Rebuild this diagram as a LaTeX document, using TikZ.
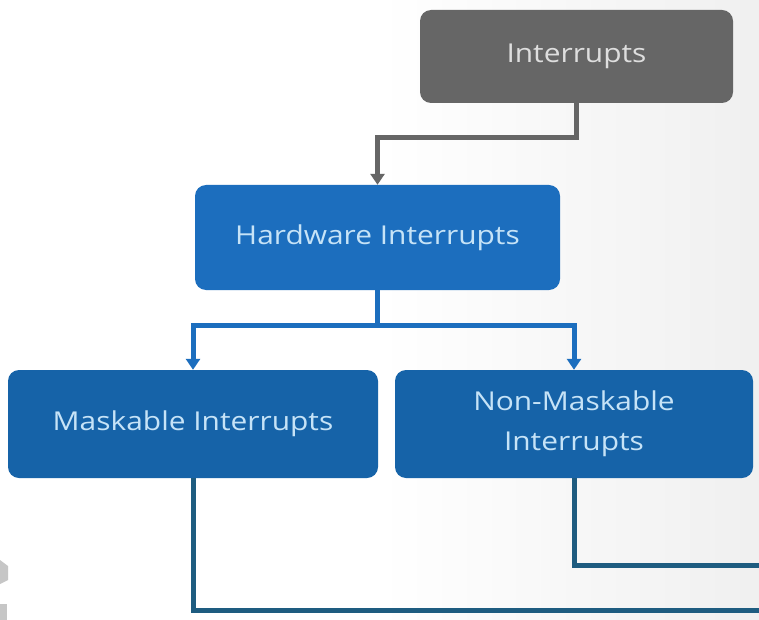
\documentclass[tikz,border=0pt]{standalone}
\usepackage{fontspec}
\setmainfont{Open Sans}[FakeStretch=1.15]
\usetikzlibrary{arrows.meta}
\definecolor{boxgray}{HTML}{666666}
\definecolor{hwblue}{HTML}{1C6EBE}
\definecolor{subblue}{HTML}{1663A8}
\definecolor{txtblue}{HTML}{C6E3F7}
\definecolor{txtgray}{HTML}{DEDEDE}
\definecolor{tealline}{HTML}{1E5C80}
\tikzset{
  box/.style={rounded corners=11pt, inner sep=0pt, align=center, font=\fontsize{26}{40}\selectfont},
  conn/.style={line width=5pt, -{Triangle[width=14pt,length=11pt]}},
  plain/.style={line width=5pt, color=tealline},
}
\begin{document}
\begin{tikzpicture}[x=1pt,y=-1pt]
\useasboundingbox (0,0) rectangle (759,620);
\shade[left color=white, right color=white!94!black, middle color=white] (0,0) rectangle (759,620);
% fragment at left edge
\fill[gray!45] (0,560) -- (8,566) -- (8,580) -- (0,584) -- cycle;
\fill[gray!45] (0,604) rectangle (7,620);

\node[box, fill=boxgray, text=txtgray, minimum width=313pt, minimum height=93pt] (int) at (576.5,56.5) {Interrupts};
\node[box, fill=hwblue, text=txtblue, minimum width=365pt, minimum height=105pt] (hw) at (377.5,237.5) {Hardware Interrupts};
\node[box, fill=subblue, text=txtblue, minimum width=370pt, minimum height=108pt] (mask) at (193,424) {Maskable Interrupts};
\node[box, fill=subblue, text=txtblue, minimum width=358pt, minimum height=108pt] (nmask) at (574,424) {Non-Maskable\\Interrupts};

\draw[conn, boxgray] (int.south) -- (int.south |- 0,138) -| (hw.north);
\coordinate (split) at (hw.south |- 0,325);
\draw[line width=5pt, hwblue] (hw.south) -- (split);
\draw[conn, hwblue] (split) -| (mask.north);
\draw[conn, hwblue] (split) -| (nmask.north);

\coordinate (e1) at (760,565);
\coordinate (e2) at (760,610);
\draw[plain] (nmask.south) -- (nmask.south |- e1) -- (e1);
\draw[plain] (mask.south) -- (mask.south |- e2) -- (e2);
\end{tikzpicture}
\end{document}
